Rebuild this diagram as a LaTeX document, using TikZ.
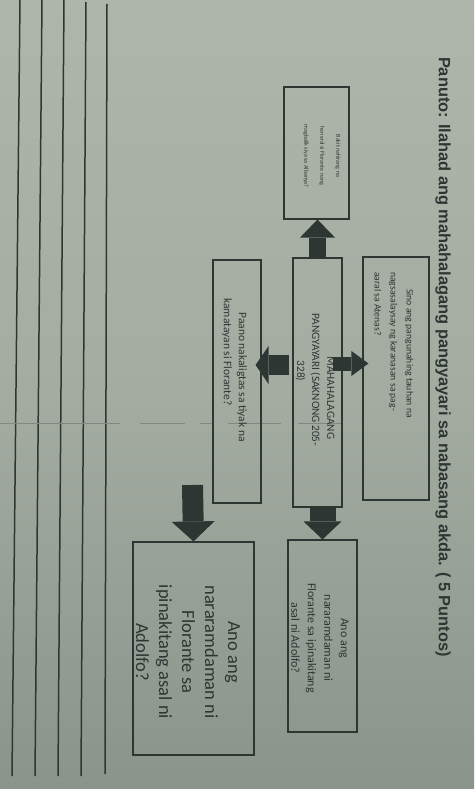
\documentclass[tikz,border=0pt]{standalone}
\usepackage{fontspec}
\setmainfont{Carlito}
\newfontfamily\titlefont{Liberation Sans}
\usetikzlibrary{arrows.meta,calc}
\definecolor{ink}{RGB}{46,54,52}
\definecolor{bgtop}{RGB}{174,182,172}
\definecolor{bgmid}{RGB}{164,172,162}
\definecolor{bgbot}{RGB}{138,148,138}
\definecolor{crease}{RGB}{128,136,128}
\begin{document}
\begin{tikzpicture}[x=1pt,y=-1pt,
  box/.style={draw=ink, line width=1.1pt, inner sep=0pt},
  txt/.style={rotate=-90, text=ink, inner sep=0pt},
  ansline/.style={draw=ink, line width=1.5pt},
  blk/.style={draw=ink}]
\useasboundingbox (0,0) rectangle (474,789);
\shade[top color=bgtop, bottom color=bgbot, middle color=bgmid] (0,0) rectangle (474,789);

% answer lines
\draw[ansline] (20,0) -- (12,776);
\draw[ansline] (42,0) -- (35,776);
\draw[ansline] (64,0) -- (58,776);
\draw[ansline] (86,2) -- (81,776);
\draw[ansline] (107,4) -- (105,774);
% faint crease line
\draw[crease, line width=0.6pt] (0,423) -- (120,423);
\draw[crease, line width=0.6pt, dash pattern=on 45pt off 15pt on 14pt off 14pt on 53pt off 17pt on 43pt off 20pt] (140,423) -- (345,423);

% title
\node[txt, font=\titlefont\bfseries\fontsize{16.4}{19}\selectfont] (title) at (443,357)
  {Panuto: Ilahad ang mahahalagang pangyayari sa nabasang akda. ( 5 Puntos)};

% boxes
\node[box, minimum width=65pt, minimum height=132pt] (sbox) at (316.5,153) {};
\node[box, minimum width=49pt, minimum height=249pt] (cbox) at (317.5,382.5) {};
\node[box, minimum width=66pt, minimum height=243pt] (rbox) at (396,378.5) {};
\node[box, minimum width=48pt, minimum height=243pt] (lbox) at (237,381.5) {};
\node[box, minimum width=69pt, minimum height=192pt] (brbox) at (322.5,636) {};
\node[box, minimum width=121pt, minimum height=213pt] (bigbox) at (193.5,648.5) {};

% texts
\node[txt, align=center, font=\fontsize{6}{16}\selectfont] (stext) at (322,156)
  {Bakit nahirang na\\heneral si Florante nang\\magbalik siya sa Albanya?};
\node[txt, align=left, font=\fontsize{9.7}{16}\selectfont] (rtext) at (394,345)
  {\hspace*{17pt}Sino ang pangunahing tauhan na\\nagsasalaysay ng karanasan sa pag-\\aaral sa Atenas?};
\node[txt, align=center, font=\fontsize{11.3}{15}\selectfont] (ctext) at (315,380)
  {\hspace*{36pt}MAHAHALAGANG\\PANGYAYARI (SAKNONG 205-\\328)\hspace*{18pt}};
\node[txt, align=left, font=\fontsize{11.5}{15}\selectfont] (ltext) at (234.5,370)
  {\hspace*{14pt}Paano nakaligtas sa tiyak na\\kamatayan si Florante?};
\node[txt, align=center, font=\fontsize{12}{16.5}\selectfont] (brtext) at (320,638)
  {Ano ang\\nararamdaman ni\\Florante sa ipinakitang\\asal ni Adolfo?};
\node[txt, align=center, font=\fontsize{18.5}{23}\selectfont] (bigtext) at (188,652)
  {Ano ang\\nararamdaman ni\\Florante sa\\ipinakitang asal ni\\Adolfo?};

% block arrows
\draw[blk, line width=17pt, -{Triangle[length=18pt,width=35pt,line width=0pt]}]
  (cbox.north) -- (cbox.north |- sbox.south);
\draw[blk, line width=20pt, -{Triangle[length=13pt,width=38pt,line width=0pt]}]
  ($(cbox.west)+(-3,-17.5)$) coordinate (la) -- ($(lbox.east |- la)+(-6,0)$);
\draw[blk, line width=14pt, -{Triangle[length=17pt,width=25pt,line width=0pt]}]
  ($(cbox.east)+(-10,-19)$) coordinate (ra) -- ($(rbox.west |- ra)+(6,0)$);
\draw[blk, line width=26pt, -{Triangle[length=18pt,width=38pt,line width=0pt]}]
  (brbox.north |- cbox.south) -- (brbox.north);
\coordinate (bigstart) at (192.5,485);
\draw[blk, line width=21pt, -{Triangle[length=20pt,width=43pt,line width=0pt]}]
  (bigstart) -- (bigbox.north);
\end{tikzpicture}
\end{document}
